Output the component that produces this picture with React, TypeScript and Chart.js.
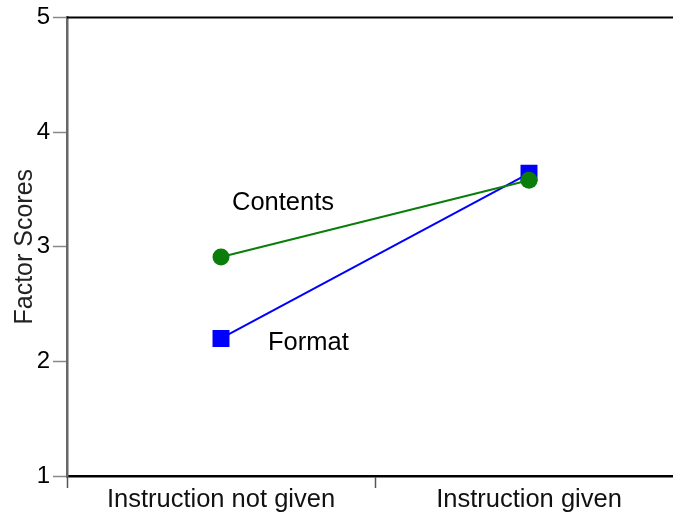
import React, { useEffect, useRef } from "react";
import { Chart, registerables } from "chart.js";

Chart.register(...registerables);

const categories = ["Instruction not given", "Instruction given"];
const seriesNames = ["Contents", "Format"];
const contentsValues = [2.91, 3.58];
const formatValues = [2.2, 3.64];
const yTicks = [1, 2, 3, 4, 5];
const yTitle = "Factor Scores";

const FONT = "'Liberation Sans', Arial, Helvetica, sans-serif";

export default function App() {
  const ref = useRef<HTMLCanvasElement | null>(null);
  useEffect(() => {
    if (!ref.current) return;
    const labelPlugin = {
      id: "extras",
      afterDraw(chart: any) {
        const ctx = chart.ctx;
        const area = chart.chartArea;
        ctx.save();
        ctx.strokeStyle = "#000";
        ctx.lineWidth = 2;
        ctx.beginPath();
        ctx.moveTo(area.left, area.top);
        ctx.lineTo(chart.width, area.top);
        ctx.stroke();
        ctx.fillStyle = "#000";
        ctx.font = `25.5px ${FONT}`;
        ctx.textBaseline = "middle";
        ctx.textAlign = "left";
        const m0 = chart.getDatasetMeta(0).data[0];
        const m1 = chart.getDatasetMeta(1).data[0];
        ctx.fillText(seriesNames[0], m0.x + 11, m0.y - 54);
        ctx.fillText(seriesNames[1], m1.x + 47, m1.y + 5);
        ctx.restore();
      },
    };
    const chart = new Chart(ref.current, {
      type: "line",
      data: {
        labels: categories,
        datasets: [
          {
            label: seriesNames[0],
            data: contentsValues,
            borderColor: "#0a7d0a",
            backgroundColor: "#0a7d0a",
            borderWidth: 2,
            pointStyle: "circle",
            pointRadius: 8.5,
            pointBorderWidth: 0,
            pointBackgroundColor: "#0a7d0a",
          },
          {
            label: seriesNames[1],
            data: formatValues,
            borderColor: "#0000ff",
            backgroundColor: "#0000ff",
            borderWidth: 2,
            pointStyle: "rect",
            pointRadius: 12,
            pointBorderWidth: 0,
            pointBackgroundColor: "#0000ff",
          },
        ],
      },
      options: {
        responsive: false,
        animation: false,
        layout: { padding: { top: 16, right: 17, left: 0, bottom: 0 } },
        plugins: { legend: { display: false }, tooltip: { enabled: false } },
        scales: {
          x: {
            type: "category",
            offset: true,
            grid: {
              offset: true,
              drawOnChartArea: false,
              drawTicks: true,
              tickLength: 12,
              tickColor: "#555",
              tickWidth: 1.5,
            },
            border: { color: "#000", width: 2.5 },
            ticks: {
              color: "#111",
              font: { family: FONT, size: 25.5 },
              padding: -3,
              maxRotation: 0,
            },
            afterFit(scale: any) {
              scale.height = 41;
            },
          },
          y: {
            min: 1,
            max: 5,
            afterBuildTicks(scale: any) {
              scale.ticks = yTicks.map((v) => ({ value: v }));
            },
            grid: {
              drawOnChartArea: false,
              drawTicks: true,
              tickLength: 14,
              tickColor: "#888",
              tickWidth: 1.5,
            },
            border: { color: "#666", width: 2.5 },
            ticks: {
              color: "#000",
              font: { family: FONT, size: 24 },
              padding: 3,
            },
            title: {
              display: true,
              text: yTitle,
              color: "#222",
              font: { family: FONT, size: 25 },
              padding: { top: 10, bottom: 0 },
            },
            afterFit(scale: any) {
              scale.width = 67;
            },
          },
        },
      },
      plugins: [labelPlugin],
    });
    return () => chart.destroy();
  }, []);
  return (
    <div
      style={{
        position: "fixed",
        left: 0,
        top: 0,
        width: 673,
        height: 517,
        overflow: "hidden",
        background: "#fff",
      }}
    >
      <canvas ref={ref} width={700} height={517} style={{ display: "block" }} />
    </div>
  );
}
